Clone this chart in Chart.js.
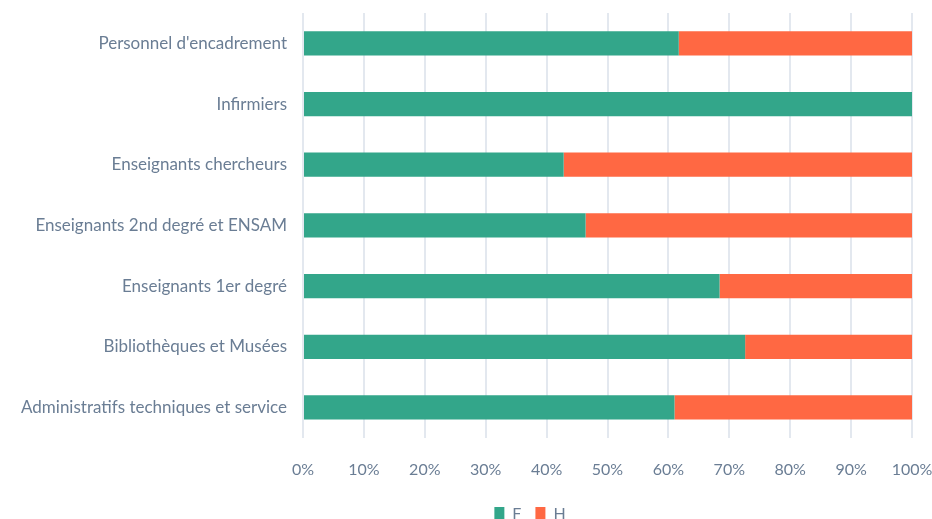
<!DOCTYPE html>
<html>
<head>
<meta charset="utf-8">
<script src="https://cdn.jsdelivr.net/npm/chart.js@4/dist/chart.umd.min.js"></script>
<style>
  html, body { margin: 0; padding: 0; background: #fff; }
  #wrap { width: 932px; height: 519px; position: relative; }
</style>
</head>
<body>
<div id="wrap"><canvas id="myChart"></canvas></div>
<script>
'use strict';

// categories, top to bottom
const categories = [
    "Personnel d'encadrement",
    'Infirmiers',
    'Enseignants chercheurs',
    'Enseignants 2nd degré et ENSAM',
    'Enseignants 1er degré',
    'Bibliothèques et Musées',
    'Administratifs techniques et service'
];

// share of women / men, in %
const femmes = [61.7, 100, 42.8, 46.4, 68.4, 72.6, 61.0];
const hommes = [38.3, 0, 57.2, 53.6, 31.6, 27.4, 39.0];

const xTicks = [0, 10, 20, 30, 40, 50, 60, 70, 80, 90, 100];

const textColor = '#6a7d94';
const gridColor = '#e3e8ef';

// move the legend a bit right and up, like in the original
const legendShift = {
    id: 'legendShift',
    afterLayout(chart) {
        const lg = chart.legend;
        lg.left += 64;
        lg.right += 64;
        lg.top -= 9;
        lg.bottom -= 9;
    }
};

const ctx = document.getElementById('myChart');

new Chart(ctx, {
    type: 'bar',
    data: {
        labels: categories,
        datasets: [{
            label: 'F',
            data: femmes,
            backgroundColor: '#33a68a'
        }, {
            label: 'H',
            data: hommes,
            backgroundColor: '#ff6843'
        }]
    },
    plugins: [legendShift],
    options: {
        indexAxis: 'y',
        responsive: true,
        maintainAspectRatio: false,
        animation: false,
        layout: { padding: { top: 13, right: 0, left: 0, bottom: -22 } },
        datasets: {
            bar: { barPercentage: 0.5, categoryPercentage: 0.8 }
        },
        scales: {
            x: {
                stacked: true,
                min: 0,
                max: 100,
                afterBuildTicks: (axis) => {
                    axis.ticks = xTicks.map(v => ({ value: v }));
                },
                afterFit: (axis) => {
                    axis.paddingLeft = 0;
                    axis.paddingRight = 20;
                },
                grid: { color: gridColor, lineWidth: 2, drawTicks: false },
                border: { display: false },
                ticks: {
                    color: textColor,
                    font: { family: 'Lato', size: 16 },
                    padding: 22,
                    callback: (v) => v + '%'
                }
            },
            y: {
                stacked: true,
                grid: { display: false },
                border: { display: false },
                afterFit: (axis) => {
                    axis.width = 303;
                    axis.paddingTop = 0;
                    axis.paddingBottom = 0;
                },
                ticks: {
                    color: textColor,
                    font: { family: 'Lato', size: 17 },
                    padding: 8
                }
            }
        },
        plugins: {
            legend: {
                position: 'bottom',
                labels: {
                    color: textColor,
                    font: { family: 'Lato', size: 16 },
                    boxWidth: 10,
                    boxHeight: 14,
                    padding: 14
                }
            },
            tooltip: { enabled: false }
        }
    }
});
</script>
</body>
</html>
